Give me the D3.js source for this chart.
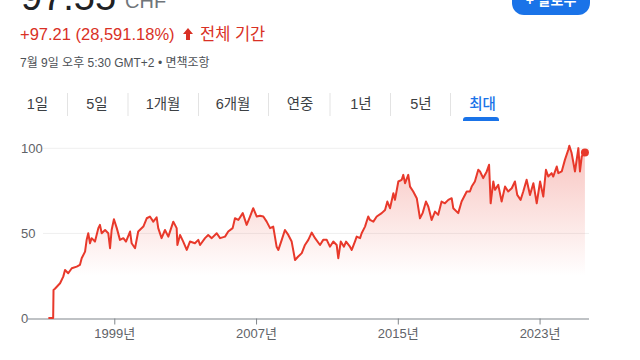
<!DOCTYPE html>
<html>
<head>
<meta charset="utf-8">
<script src="https://cdn.jsdelivr.net/npm/d3@7"></script>
<style>
  html, body { margin: 0; padding: 0; background: #fff; }
  svg { display: block; font-family: Arial, "Liberation Sans", "Noto Sans CJK KR", sans-serif; }
</style>
</head>
<body>
<svg id="chart" width="640" height="360"></svg>
<script>
// ---- Data (decimal year, price in CHF) ----
const years = [
  1995.28, 1995.55, 1995.57, 1995.65, 1995.94, 1996.12, 1996.22, 1996.40, 1996.60, 1996.88,
  1997.06, 1997.16, 1997.35, 1997.44, 1997.53, 1997.63, 1997.72, 1997.91, 1998.10, 1998.19,
  1998.29, 1998.48, 1998.66, 1998.76, 1998.85, 1998.98, 1999.14, 1999.32, 1999.51, 1999.66,
  1999.89, 1999.98, 2000.17, 2000.35, 2000.64, 2000.83, 2001.01, 2001.20, 2001.39, 2001.48,
  2001.67, 2001.86, 2002.05, 2002.33, 2002.52, 2002.56, 2002.71, 2002.89, 2003.09, 2003.27,
  2003.55, 2003.74, 2003.84, 2004.12, 2004.30, 2004.50, 2004.78, 2004.97, 2005.25, 2005.43,
  2005.68, 2005.81, 2006.00, 2006.25, 2006.47, 2006.66, 2006.84, 2007.04, 2007.22, 2007.41,
  2007.60, 2007.79, 2007.97, 2008.16, 2008.26, 2008.45, 2008.63, 2008.82, 2009.01, 2009.20,
  2009.38, 2009.58, 2009.76, 2009.95, 2010.14, 2010.33, 2010.61, 2010.79, 2010.99, 2011.17,
  2011.36, 2011.55, 2011.64, 2011.78, 2011.96, 2012.08, 2012.30, 2012.40, 2012.58, 2012.68,
  2012.87, 2012.96, 2013.15, 2013.33, 2013.43, 2013.62, 2013.81, 2014.09, 2014.28, 2014.41,
  2014.56, 2014.75, 2014.84, 2015.03, 2015.22, 2015.31, 2015.41, 2015.59, 2015.69, 2015.87,
  2016.07, 2016.25, 2016.40, 2016.59, 2016.72, 2016.91, 2017.10, 2017.28, 2017.47, 2017.66,
  2017.85, 2018.04, 2018.13, 2018.41, 2018.60, 2018.89, 2019.07, 2019.17, 2019.35, 2019.54,
  2019.64, 2019.82, 2020.02, 2020.15, 2020.24, 2020.39, 2020.48, 2020.67, 2020.86, 2021.05,
  2021.23, 2021.43, 2021.61, 2021.74, 2021.93, 2022.08, 2022.27, 2022.46, 2022.65, 2022.84,
  2023.03, 2023.21, 2023.36, 2023.49, 2023.68, 2023.77, 2023.97, 2024.06, 2024.25, 2024.43,
  2024.62, 2024.68, 2024.81, 2025.00, 2025.19, 2025.28, 2025.38, 2025.56
];
const prices = [
  0.34, 0.34, 16.8, 17.5, 20.7, 24.6, 28.5, 26.6, 29.5, 30.5,
  31.5, 35.4, 39.3, 46.2, 50.1, 44.2, 47.2, 45.2, 53.1, 55.0,
  50.1, 52.0, 50.1, 41.3, 52.0, 58.3, 53.1, 46.2, 47.2, 45.2,
  51.1, 44.2, 41.3, 51.1, 54.0, 58.9, 59.9, 56.9, 59.4, 53.1,
  47.2, 52.0, 48.1, 56.9, 53.1, 43.2, 49.1, 45.2, 40.3, 45.2,
  44.2, 46.2, 43.2, 47.2, 49.1, 47.2, 50.1, 47.2, 48.1, 51.1,
  53.1, 58.9, 57.9, 61.9, 55.0, 59.9, 64.8, 59.9, 60.4, 59.9,
  56.9, 53.1, 54.0, 42.2, 40.3, 46.2, 52.0, 49.1, 45.2, 34.4,
  36.4, 38.4, 43.2, 46.2, 50.5, 47.2, 43.2, 46.2, 46.2, 42.2,
  45.2, 43.2, 35.4, 45.2, 42.2, 45.2, 42.2, 40.3, 45.2, 48.1,
  47.2, 50.1, 54.0, 59.9, 57.9, 56.9, 59.9, 61.9, 63.8, 68.7,
  64.8, 73.6, 69.7, 80.5, 81.5, 84.4, 79.5, 84.4, 77.5, 74.6,
  70.7, 58.9, 61.9, 68.7, 65.8, 57.9, 62.8, 60.9, 68.7, 67.7,
  69.7, 70.7, 64.8, 61.9, 68.7, 74.6, 74.6, 77.5, 80.5, 87.4,
  86.4, 82.5, 86.4, 90.3, 67.7, 80.5, 75.6, 78.5, 68.7, 77.5,
  74.6, 76.5, 80.5, 72.6, 69.7, 74.6, 81.5, 72.6, 79.5, 67.7,
  80.5, 71.6, 87.4, 83.4, 85.4, 83.4, 89.3, 85.4, 86.4, 93.2,
  99.1, 101.5, 97.2, 86.4, 100.1, 86.4, 95.2, 97.55
];
const yTicks = [0, 50, 100];
const xTicks = [1999, 2007, 2015, 2023];
const tabs = ["1일", "5일", "1개월", "6개월", "연중", "1년", "5년", "최대"];
const priceText = "97.55";
const currency = "CHF";
const changeText = "+97.21 (28,591.18%)";
const periodText = "전체 기간";
const dateText = "7월 9일 오후 5:30 GMT+2 • 면책조항";

const data = years.map((y, i) => ({ t: y, v: prices[i] }));

const svg = d3.select("#chart");
const red = "#e8392b";

// ---- Header ----
svg.append("text").attr("x", 21).attr("y", 10).attr("font-size", 38)
  .attr("fill", "#202124").text(priceText);
svg.append("text").attr("x", 125).attr("y", 8).attr("font-size", 20)
  .attr("fill", "#70757a").text(currency);

// follow button (clipped at top)
svg.append("rect").attr("x", 512).attr("y", -20).attr("width", 78).attr("height", 35)
  .attr("rx", 12).attr("fill", "#1a73e8");
svg.append("text").attr("x", 551).attr("y", 5).attr("text-anchor", "middle")
  .attr("font-size", 14).attr("font-weight", "bold").attr("fill", "#fff").text("+  팔로우");

svg.append("text").attr("x", 20).attr("y", 40).attr("font-size", 16.5).attr("fill", "#d93025").text(changeText);
// up arrow
svg.append("path").attr("d", "M188,28 l5,6 h-3 v6 h-4 v-6 h-3 z").attr("fill", "#d93025");
svg.append("text").attr("x", 200).attr("y", 40).attr("font-size", 16.5).attr("fill", "#d93025").text(periodText);

svg.append("text").attr("x", 20).attr("y", 67).attr("font-size", 12).attr("fill", "#4d5156").text(dateText);

// ---- Tabs ----
const tabCenters = [37.5, 97, 163, 233, 300, 361, 421, 482.5];
const sepX = [67.5, 128, 198.5, 268.5, 330, 390.5, 450.5];
tabs.forEach((t, i) => {
  svg.append("text").attr("x", tabCenters[i]).attr("y", 109).attr("text-anchor", "middle")
    .attr("font-size", 14.5).attr("font-weight", i === tabs.length - 1 ? 500 : 400)
    .attr("fill", i === tabs.length - 1 ? "#1a73e8" : "#3c4043").text(t);
});
sepX.forEach(x => {
  svg.append("line").attr("x1", x).attr("x2", x).attr("y1", 93).attr("y2", 116)
    .attr("stroke", "#e3e3e3").attr("stroke-width", 1);
});
svg.append("path").attr("d", "M463,121 v-1 a3,3 0 0 1 3,-3 h30 a3,3 0 0 1 3,3 v1 z").attr("fill", "#1a73e8");

// ---- Scales ----
const x = d3.scaleLinear().domain([1994.13, 2025.79]).range([28, 589]);
const y = d3.scaleLinear().domain([0, 100]).range([318.5, 148.3]);

// gridlines
yTicks.filter(d => d > 0).forEach(d => {
  svg.append("line").attr("x1", 43).attr("x2", 589).attr("y1", y(d)).attr("y2", y(d))
    .attr("stroke", "#efefef").attr("stroke-width", 1);
});
// y labels
yTicks.forEach(d => {
  svg.append("text").attr("x", 21).attr("y", y(d)).attr("dy", "0.35em")
    .attr("font-size", 13).attr("fill", "#5f6368").text(d);
});

// gradient
const defs = svg.append("defs");
const grad = defs.append("linearGradient").attr("id", "fillGrad")
  .attr("gradientUnits", "userSpaceOnUse").attr("x1", 0).attr("x2", 0)
  .attr("y1", y(101)).attr("y2", 276);
grad.append("stop").attr("offset", 0).attr("stop-color", red).attr("stop-opacity", 0.3);
grad.append("stop").attr("offset", 1).attr("stop-color", red).attr("stop-opacity", 0);

const area = d3.area().x(d => x(d.t)).y0(y(0)).y1(d => y(d.v));
svg.append("path").datum(data).attr("d", area).attr("fill", "url(#fillGrad)");

// baseline axis
const axis = d3.axisBottom(x).tickValues(xTicks).tickSize(6).tickFormat(d => d + "년");
const gAxis = svg.append("g").attr("transform", `translate(0,${y(0)})`).call(axis);
gAxis.select(".domain").attr("stroke", "#80868b").attr("stroke-width", 1.2)
  .attr("d", `M28,0.5H589`);
gAxis.selectAll(".tick line").attr("stroke", "#80868b");
gAxis.selectAll(".tick text").attr("font-size", 13).attr("fill", "#5f6368")
  .attr("font-family", 'Arial, "Liberation Sans", "Noto Sans CJK KR", sans-serif')
  .attr("y", 10).attr("dy", "0.71em");

// line
const line = d3.line().x(d => x(d.t)).y(d => y(d.v));
svg.append("path").datum(data).attr("d", line).attr("fill", "none")
  .attr("stroke", red).attr("stroke-width", 2).attr("stroke-linejoin", "round");

// end dot
const last = data[data.length - 1];
svg.append("circle").attr("cx", x(last.t)).attr("cy", y(last.v)).attr("r", 4).attr("fill", red);
</script>
</body>
</html>
